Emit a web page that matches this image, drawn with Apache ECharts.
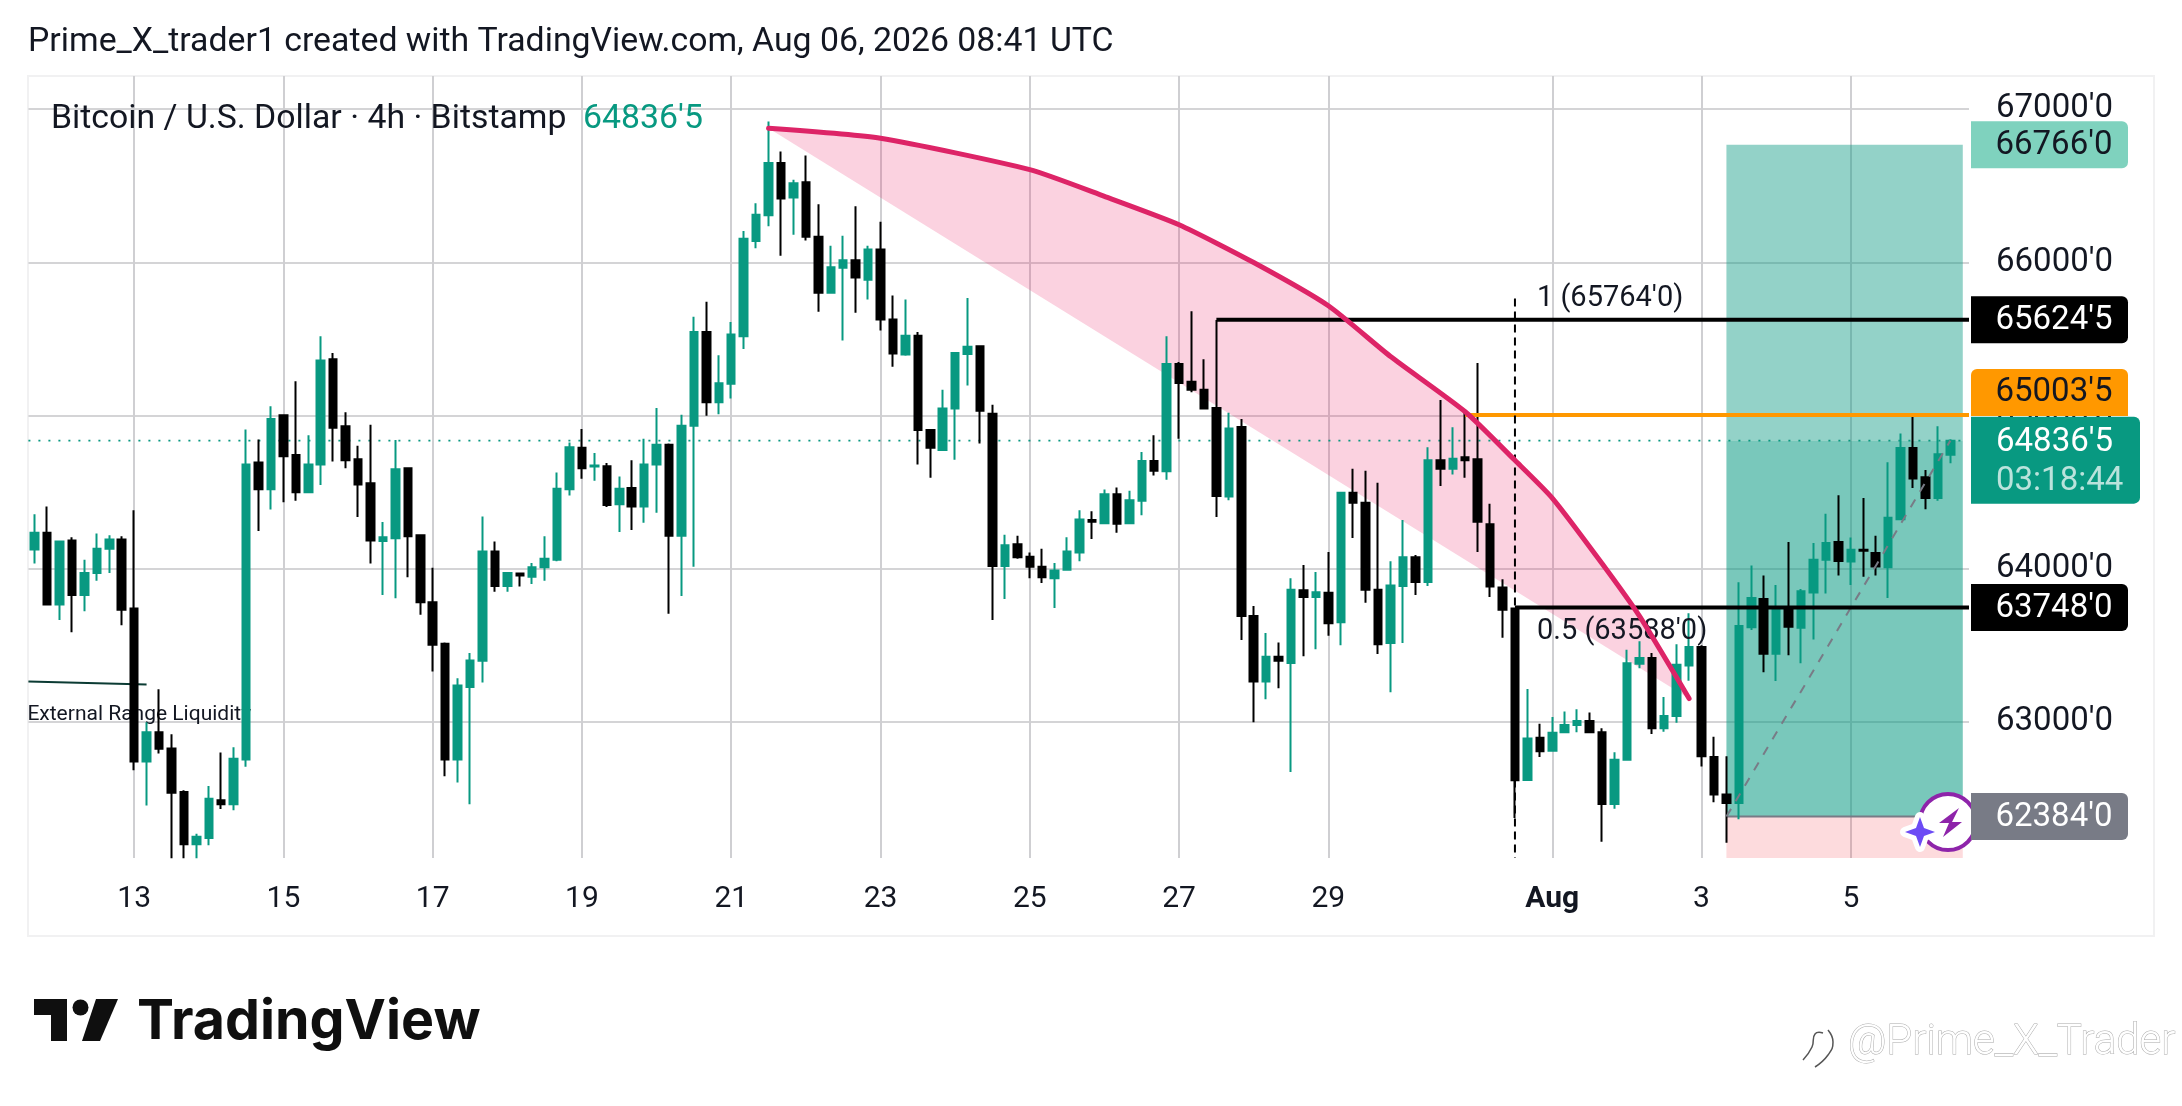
<!DOCTYPE html>
<html><head><meta charset="utf-8">
<style>html,body{margin:0;padding:0;background:#fff}#c{width:2182px;height:1106px}</style>
<script src="https://cdn.jsdelivr.net/npm/echarts@6/dist/echarts.min.js"></script>
</head><body><div id="c"></div>
<script>
// [open, close, low, high] per 4h candle
const candleRows = [
[64127,64236,64035,64356],[64236,63768,63768,64407],[63768,64178,63666,64178],[64185,63830,63587,64206],[63830,63973,63724,64059],[63973,64131,63922,64230],[64131,64192,63973,64219],[64192,63734,63632,64213],
[63741,62744,62686,64383],[62744,62935,62457,63000],[62935,62826,62795,63215],[62829,62539,62112,62921],[62545,62204,62112,62556],[62204,62252,62112,62272],[62245,62501,62197,62583],[62491,62464,62433,62802],
[62464,62761,62426,62836],[62757,64681,62709,64909],[64694,64520,64247,64844],[64520,64978,64387,65060],[65002,64735,64435,65002],[64742,64499,64445,65224],[64499,64681,64499,64872],[64681,65360,64547,65517],
[65367,64920,64701,65408],[64930,64708,64657,65022],[64715,64551,64339,64803],[64558,64185,64035,64940],[64182,64206,63830,64305],[64199,64650,63809,64841],[64657,64212,63946,64657],[64219,63782,63700,64223],
[63782,63505,63331,64008],[63512,62757,62648,63519],[62757,63239,62607,63287],[63229,63403,62464,63451],[63400,64113,63259,64342],[64113,63888,63850,64178],[63888,63973,63850,63980],[63970,63956,63885,63970],
[63949,64011,63902,64038],[64011,64066,63922,64213],[64059,64523,64049,64629],[64520,64793,64479,64824],[64790,64657,64588,64913],[64667,64674,64575,64756],[64670,64417,64404,64691],[64421,64523,64240,64602],
[64527,64407,64253,64708],[64407,64681,64301,64848],[64681,64810,64366,65049],[64810,64216,63707,64817],[64216,64933,63823,65005],[64933,65545,64014,65644],[65545,65087,64998,65743],[65087,65210,65008,65394],
[65207,65528,65111,65610],[65517,66153,65435,66204],[66139,66310,66091,66385],[66306,66648,66235,66918],[66648,66416,66043,66723],[66423,66515,66180,66539],[66522,66166,66142,66696],[66166,65801,65678,66378],
[65801,65968,65801,66108],[65965,66013,65490,66173],[66013,65900,65671,66365],[65886,66084,65757,66108],[66084,65627,65555,66265],[65627,65405,65319,65784],[65398,65521,65391,65757],[65521,64906,64681,65545],
[64906,64790,64595,64906],[64776,65046,64776,65169],[65046,65408,64711,65408],[65401,65449,65196,65767],[65452,65032,64817,65456],[65012,64018,63666,65070],[64018,64154,63803,64223],[64161,64076,64066,64216],
[64079,64014,63939,64107],[64014,63946,63908,64131],[63939,63990,63745,64038],[63994,64113,63987,64206],[64107,64322,64049,64383],[64318,64308,64195,64376],[64298,64486,64298,64517],[64486,64295,64236,64530],
[64298,64448,64298,64510],[64445,64704,64349,64762],[64704,64640,64609,64872],[64636,65336,64581,65517],[65336,65213,64848,65350],[65220,65169,65152,65681],[65169,65046,65046,65367],[65049,64476,64339,65623],
[64472,64916,64448,65019],[64926,63693,63536,64978],[63693,63266,63000,63758],[63266,63427,63150,63581],[63427,63400,63222,63519],[63386,63864,62675,63939],[63861,63816,63430,64025],[63816,63847,63475,63980],
[63844,63645,63563,64110],[63652,64496,63502,64500],[64496,64431,64202,64653],[64431,63864,63779,64640],[63864,63509,63444,64561],[63516,63891,63195,64049],[63888,64076,63516,64318],[64076,63915,63830,64090],
[63915,64708,63888,64793],[64708,64653,64540,65101],[64653,64718,64616,64923],[64728,64708,64595,65025],[64715,64308,64110,65343],[64291,63885,63816,64424],[63878,63734,63550,63932],[63741,62621,62375,63748],
[62623,62894,62623,63216],[62898,62810,62773,62989],[62814,62931,62814,63033],[62934,62982,62934,63070],[62982,63008,62934,63085],[63008,62934,62934,63063],[62934,62466,62220,62960],[62466,62755,62436,62803],
[62755,63385,62755,63473],[63381,63418,63352,63528],[63418,62960,62923,63451],[62960,63041,62938,63165],[63041,63374,62997,63509],[63370,63491,63271,63711],[63491,62777,62711,63502],[62773,62528,62477,62905],
[62528,62473,62213,62777],[62473,63627,62367,63912],[63619,63810,63601,64022],[63803,63447,63326,63956],[63447,63737,63268,63894],[63748,63623,63436,64176],[63616,63854,63385,63868],[63846,64059,63539,64169],
[64059,64169,63839,64359],[64176,64052,63956,64480],[64048,64125,63894,64205],[64125,64118,63949,64462],[64103,64015,63956,64216],[64011,64334,63810,64696],[64323,64788,64323,64883],[64788,64590,64528,65000],
[64597,64462,64389,64645],[64462,64748,64444,64931],[64744,64836.5,64689,64846]
];
const bandCount = 156;
const tickIndices = [8,20,32,44,56,68,80,92,104,122,134,146];
const tickLabels = ['13','15','17','19','21','23','25','27','29','Aug','3','5'];

// curve drawing, as [candle index, price]
const curveIdx   = [59,68,80,86,92,98,104,109,115,119,122,126,129,133];
const curvePrice = [66874,66809,66604,66430,66245,65998,65716,65385,65025,64708,64462,64035,63693,63154];

const lastPrice = 64836.5, tpPrice = 66766, slPrice = 62384;
const boxStartIdx = 136, boxEndIdx = 155;
const levelStarts = [95,115,119];
const levelPrices = [65624.5,65003.5,63748];
const fibPrices = [65764,63588];
const fibLabels = ["1 (65764'0)","0.5 (63588'0)"];
const fibLineIdx = 119;
const liquidityIdx = [0,9], liquidityPrice = [63266,63246];
const projectionIdx = [136,154], projectionPrice = [62384,64836.5];

const tagPrices = [66766,65624.5,63748,62384];
const tagTexts = ["66766'0","65624'5","63748'0","62384'0"];

const UP = '#089981', DOWN = '#000000', INK = '#131722';
const FONT = 'Roboto';
const categories = Array.from({length: bandCount}, (_, i) => String(i));
const tickMap = new Map(tickIndices.map((v, i) => [v, tickLabels[i]]));

const chart = echarts.init(document.getElementById('c'), null, {renderer: 'canvas'});

function zones(params, api) {
  const cs = params.coordSys, bottom = cs.y + cs.height, right = cs.x + cs.width;
  const x0 = api.coord([boxStartIdx, 0])[0], x1 = api.coord([boxEndIdx, 0])[0];
  const yTp = api.coord([0, tpPrice])[1], yLast = api.coord([0, lastPrice])[1], ySl = api.coord([0, slPrice])[1];
  const pts = curveIdx.map((v, i) => api.coord([v, curvePrice[i]]));
  return {type: 'group', children: [
    {type: 'polygon', shape: {points: pts}, style: {fill: 'rgba(233,30,99,0.2)'}},
    {type: 'rect', shape: {x: x0, y: yTp, width: x1 - x0, height: yLast - yTp}, style: {fill: 'rgba(8,153,129,0.44)'}},
    {type: 'rect', shape: {x: x0, y: yLast, width: x1 - x0, height: ySl - yLast}, style: {fill: 'rgba(8,153,129,0.54)'}},
    {type: 'rect', shape: {x: x0, y: ySl, width: x1 - x0, height: bottom - ySl}, style: {fill: 'rgba(242,54,69,0.18)'}},
    {type: 'line', shape: {x1: x0, y1: ySl, x2: x1, y2: ySl}, style: {stroke: '#787b86', lineWidth: 2}},
    {type: 'line', shape: {x1: cs.x, y1: yLast, x2: x1, y2: yLast}, style: {stroke: UP, lineWidth: 1.6, lineDash: [2, 8]}},
    {type: 'line', shape: {x1: cs.x, y1: api.coord([0, liquidityPrice[0]])[1], x2: api.coord([liquidityIdx[1], 0])[0], y2: api.coord([0, liquidityPrice[1]])[1]}, style: {stroke: '#0b3b33', lineWidth: 2}},
    {type: 'text', style: {text: 'External Range Liquidity', x: cs.x - 1, y: api.coord([0, 63051])[1], font: '400 21px ' + FONT, fill: INK, verticalAlign: 'middle'}}
  ]};
}
function overlays(params, api) {
  const cs = params.coordSys, bottom = cs.y + cs.height, right = cs.x + cs.width;
  const kids = [];
  const colors = ['#000', '#ff9800', '#000'];
  levelPrices.forEach((p, i) => {
    const a = api.coord([levelStarts[i], p]);
    kids.push({type: 'line', shape: {x1: a[0], y1: a[1], x2: right, y2: a[1]}, style: {stroke: colors[i], lineWidth: 4}});
  });
  const top = api.coord([fibLineIdx, fibPrices[0]]);
  kids.push({type: 'line', shape: {x1: top[0], y1: top[1], x2: top[0], y2: bottom}, style: {stroke: '#000', lineWidth: 2, lineDash: [8, 5]}});
  fibPrices.forEach((p, i) => {
    const a = api.coord([fibLineIdx, p]);
    kids.push({type: 'text', style: {text: fibLabels[i], x: a[0] + 22, y: a[1], font: '400 29px ' + FONT, fill: INK, verticalAlign: 'middle'}});
  });
  return {type: 'group', children: kids};
}
function tags(params, api) {
  const cs = params.coordSys, x = cs.x + cs.width + 2;
  const fills = ['#7fd2be', '#000', '#000', '#787b86'];
  const inks = [INK, '#fff', '#fff', '#fff'];
  const kids = [];
  tagPrices.forEach((p, i) => {
    const y = api.coord([0, p])[1];
    kids.push({type: 'rect', shape: {x, y: y - 23.5, width: 157, height: 47, r: [0, 6, 6, 0]}, style: {fill: fills[i]}});
    kids.push({type: 'text', style: {text: tagTexts[i], x: 2054, y: y + 1, font: '400 33px ' + FONT, fill: inks[i], align: 'center', verticalAlign: 'middle'}});
  });
  const yo = api.coord([0, levelPrices[1]])[1];
  kids.push({type: 'rect', shape: {x, y: yo - 46, width: 157, height: 47, r: [6, 6, 0, 0]}, style: {fill: '#ff9800'}});
  kids.push({type: 'text', style: {text: "65003'5", x: 2054, y: yo - 22, font: '400 33px ' + FONT, fill: INK, align: 'center', verticalAlign: 'middle'}});
  const yl = api.coord([0, lastPrice])[1];
  kids.push({type: 'rect', shape: {x, y: yl - 24, width: 169, height: 87, r: [0, 6, 6, 0]}, style: {fill: UP}});
  kids.push({type: 'text', style: {text: "64836'5", x: 1996, y: yl + 2, font: '400 33px ' + FONT, fill: '#fff', verticalAlign: 'middle'}});
  kids.push({type: 'text', style: {text: '03:18:44', x: 1996, y: yl + 41, font: '400 33px ' + FONT, fill: 'rgba(255,255,255,0.72)', verticalAlign: 'middle'}});
  return {type: 'group', children: kids};
}

chart.setOption({
  animation: false,
  backgroundColor: '#fff',
  textStyle: {fontFamily: FONT},
  grid: {left: 28.4, width: 1940.6, top: 76, height: 782, containLabel: false},
  xAxis: {
    type: 'category', data: categories, boundaryGap: true,
    axisLine: {show: false}, axisTick: {show: false},
    axisLabel: {
      interval: (i) => tickMap.has(i), margin: 26, fontSize: 30, color: INK, fontFamily: FONT, hideOverlap: false,
      formatter: (v) => { const t = tickMap.get(+v); return t === 'Aug' ? '{b|Aug}' : (t || ''); },
      rich: {b: {fontWeight: 700, fontSize: 30, color: INK, fontFamily: FONT}}
    },
    splitLine: {show: true, alignWithLabel: true, interval: (i) => tickMap.has(i), lineStyle: {color: '#cfcfd2', width: 2}}
  },
  yAxis: {
    type: 'value', position: 'right', min: 62114, max: 67215, scale: true, minInterval: 1000, maxInterval: 1000,
    axisLine: {show: false}, axisTick: {show: false},
    axisLabel: {margin: 27, fontSize: 33, color: INK, fontFamily: FONT, showMinLabel: false, showMaxLabel: false, formatter: (v) => v + "'0"},
    splitLine: {show: true, showMinLine: false, showMaxLine: false, lineStyle: {color: '#d4d4d6', width: 2}}
  },
  series: [
    {type: 'custom', name: 'zones', z: 1, silent: true, data: [[0, lastPrice]], renderItem: zones},
    {type: 'candlestick', name: 'BTCUSD', z: 2, data: candleRows, barWidth: 8,
     itemStyle: {color: UP, color0: DOWN, borderColor: UP, borderColor0: DOWN, borderWidth: 2}},
    {type: 'line', name: 'projection', z: 3, silent: true, symbol: 'none',
     data: projectionIdx.map((v, i) => [v, projectionPrice[i]]), lineStyle: {color: '#787b86', width: 2, type: [9, 9]}},
    {type: 'custom', name: 'levels', z: 4, silent: true, data: [[0, lastPrice]], renderItem: overlays},
    {type: 'line', name: 'curve', z: 5, silent: true, symbol: 'none', smooth: 0.2,
     data: curveIdx.map((v, i) => [v, curvePrice[i]]), lineStyle: {color: '#dd2467', width: 5, cap: 'round'}},
    {type: 'custom', name: 'tags', z: 8, silent: true, data: [[0, lastPrice]], renderItem: tags}
  ],
  graphic: [
    {type: 'rect', z: -1, shape: {x: 28, y: 76, width: 2126, height: 860}, style: {fill: 'none', stroke: '#f1f1f2', lineWidth: 2}},
    {type: 'text', z: 20, style: {text: 'Prime_X_trader1 created with TradingView.com, Aug 06, 2026 08:41 UTC', x: 28, y: 43, font: '400 33.8px ' + FONT, fill: INK, verticalAlign: 'middle'}},
    {type: 'text', z: 20, style: {text: 'Bitcoin / U.S. Dollar · 4h · Bitstamp', x: 51, y: 120, font: '400 33.8px ' + FONT, fill: INK, verticalAlign: 'middle'}},
    {type: 'text', z: 20, style: {text: "64836'5", x: 583, y: 120, font: '400 33.8px ' + FONT, fill: UP, verticalAlign: 'middle'}},
    // badge
    {type: 'circle', z: 6, shape: {cx: 1948, cy: 822, r: 28}, style: {fill: '#fff', stroke: '#8e24aa', lineWidth: 4}},
    {type: 'polygon', z: 6, shape: {points: [[1959,808],[1939,823],[1949,823],[1943,837],[1962,822],[1952,822]]}, style: {fill: '#8e24aa'}},
    {type: 'polygon', z: 6, shape: {points: [[1920,817],[1924,828],[1935,832],[1924,836],[1920,847],[1916,836],[1905,832],[1916,828]]}, style: {fill: '#fff', stroke: '#fff', lineWidth: 10, lineJoin: 'round'}},
    {type: 'polygon', z: 6, shape: {points: [[1920,817],[1924,828],[1935,832],[1924,836],[1920,847],[1916,836],[1905,832],[1916,828]]}, style: {fill: '#6c4bf5'}},
    // brand mark
    {type: 'polygon', z: 20, shape: {points: [[34,999],[67,999],[67,1041],[51,1041],[51,1015],[34,1015]]}, style: {fill: '#0f0f0f'}},
    {type: 'circle', z: 20, shape: {cx: 80.5, cy: 1007.5, r: 8}, style: {fill: '#0f0f0f'}},
    {type: 'polygon', z: 20, shape: {points: [[96,999],[118,999],[100,1041],[82,1041]]}, style: {fill: '#0f0f0f'}},
    {type: 'text', z: 20, style: {text: 'TradingView', x: 137, y: 1022, font: '700 55.5px Inter', fill: '#0f0f0f', verticalAlign: 'middle'}},
    // watermark
    {type: 'polyline', z: 20, shape: {points: [[1823,1033],[1815,1034],[1812,1047],[1803,1060]], smooth: 0.5}, style: {fill: 'none', stroke: '#555', lineWidth: 1.5}},
    {type: 'polyline', z: 20, shape: {points: [[1828,1030],[1833,1042],[1828,1055],[1815,1067]], smooth: 0.5}, style: {fill: 'none', stroke: '#555', lineWidth: 1.5}},
    {type: 'text', z: 20, style: {text: '@Prime_X_Trader', x: 1848, y: 1043, font: '300 42px Roboto', fill: '#fff', stroke: '#aaa', lineWidth: 1, verticalAlign: 'middle'}}
  ]
});
</script></body></html>
